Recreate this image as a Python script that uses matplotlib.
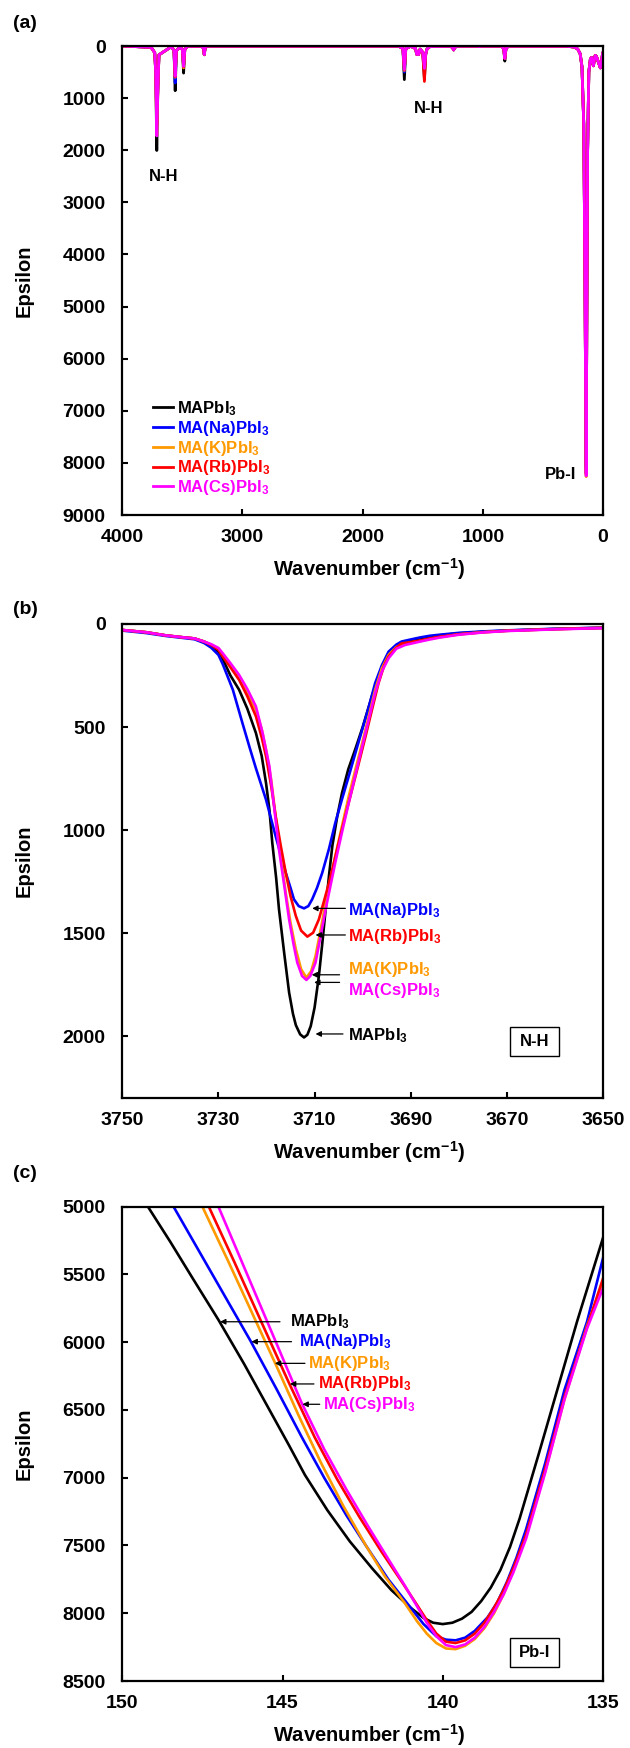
import matplotlib
matplotlib.use("Agg")
import matplotlib.pyplot as plt
from matplotlib.patches import Rectangle

plt.rcParams['font.family'] = ['Liberation Sans', 'DejaVu Sans']
plt.rcParams['font.weight'] = 'bold'
plt.rcParams['mathtext.default'] = 'regular'

# ---------------- series ----------------
names = ['MAPbI$_3$', 'MA(Na)PbI$_3$', 'MA(K)PbI$_3$', 'MA(Rb)PbI$_3$', 'MA(Cs)PbI$_3$']
colors = ['black', '#0000FF', '#FF9900', '#FF0000', '#FF00FF']

# ---------------- panel (a): full spectrum ----------------
wn_a = [4000, 3760, 3730, 3722, 3713, 3704, 3695, 3590, 3570, 3560, 3550, 3520, 3500, 3490,
        3480, 3460, 3340, 3325, 3318, 3311, 3295, 1700, 1665, 1653, 1641, 1600, 1560, 1550,
        1543, 1535, 1522, 1500, 1486, 1475, 1465, 1440, 1270, 1252, 1243, 1234, 1215, 1040,
        1029, 1018, 840, 826, 817, 808, 790, 300, 240, 210, 190, 175, 160, 150, 145, 140,
        135, 128, 118, 105, 95, 80, 65, 55, 40, 22, 10, 3]
base_a = [0, 25, 130, 500, 0, 800, 170, 10, 90, 0, 90, 15, 70, 0,
          70, 5, 5, 40, 0, 40, 3, 3, 50, 0, 50, 5, 50, 160,
          110, 165, 60, 120, 0, 150, 60, 10, 5, 30, 76, 30, 3, 3,
          12, 3, 3, 60, 0, 60, 3, 5, 20, 60, 150, 400, 1500, 4500, 6500, 0,
          5400, 2000, 500, 250, 220, 380, 180, 200, 300, 420, 250, 140]
peak_wn_a = [3713, 3560, 3490, 3318, 1653, 1486, 817, 140]
depth_a_MAPbI3 = [2005, 858, 520, 170, 645, 640, 290, 8080]
depth_a_Na = [1379, 710, 400, 165, 500, 450, 240, 8200]
depth_a_K = [1715, 600, 420, 165, 470, 440, 240, 8265]
depth_a_Rb = [1516, 590, 400, 165, 460, 680, 240, 8220]
depth_a_Cs = [1726, 580, 390, 165, 450, 430, 240, 8250]
depths_a = [depth_a_MAPbI3, depth_a_Na, depth_a_K, depth_a_Rb, depth_a_Cs]

# ---------------- panel (b): N-H region ----------------
wn_b_MAPbI3 = [3750, 3745, 3741, 3738, 3735, 3733, 3731.5, 3730, 3729, 3727.5, 3725.7, 3724, 3722.2,
               3721, 3720.1, 3719.4, 3718.8, 3718, 3717.4, 3716.3, 3715.3, 3714.5, 3713.9, 3713,
               3712.2, 3711.5, 3710.8, 3710, 3709.1, 3708.4, 3707.7, 3707, 3706.3, 3705.3, 3704.3,
               3703, 3701.5, 3700, 3698.1, 3696.5, 3695.3, 3693.2, 3690.5, 3688, 3686, 3684, 3680,
               3675, 3670, 3660, 3650]
eps_b_MAPbI3 = [29, 40, 55, 63, 70, 85, 105, 135, 175, 250, 319, 410, 529,
                640, 771, 900, 1061, 1230, 1384, 1600, 1787, 1890, 1945, 1990,
                2005, 1992, 1950, 1860, 1706, 1550, 1384, 1220, 1075, 935, 820,
                705, 605, 500, 352, 245, 178, 112, 82, 70, 62, 55, 45,
                38, 32, 24, 18]
wn_b_Na = [3750, 3745, 3741, 3738, 3735, 3733, 3731.5, 3730, 3729.1, 3727, 3725, 3723.5, 3722.2,
           3720.1, 3718.1, 3716, 3715, 3714.3, 3713.3, 3712.2, 3711.3, 3710.5, 3709.5, 3708.4,
           3707, 3705.7, 3704.3, 3702.9, 3701.5, 3700.1, 3698.7, 3697.4, 3696, 3694.6, 3693,
           3691.9, 3690, 3688, 3686, 3684, 3680, 3675, 3670, 3660, 3650]
eps_b_Na = [32, 44, 58, 66, 74, 92, 115, 150, 195, 319, 481, 600, 700,
            852, 1029, 1206, 1280, 1335, 1368, 1379, 1368, 1335, 1280, 1206,
            1090, 965, 850, 739, 625, 513, 400, 287, 200, 134, 100,
            85, 75, 65, 57, 52, 43, 36, 31, 23, 18]
wn_b_K = [3750, 3745, 3741, 3738, 3735, 3733, 3731.5, 3730, 3729.1, 3727.5, 3725.7, 3724, 3722.2,
          3721, 3720.1, 3719, 3718.1, 3717, 3716, 3715, 3713.9, 3712.8, 3711.7, 3710.7, 3709.8,
          3708.8, 3707.7, 3706.7, 3705.7, 3704.3, 3702.9, 3701.5, 3700.1, 3698.7, 3697.4, 3696,
          3694.6, 3693, 3691.2, 3688, 3686, 3684, 3680, 3675, 3670, 3660, 3650]
eps_b_K = [29, 40, 55, 63, 70, 85, 100, 120, 150, 200, 255, 330, 416,
           510, 610, 760, 932, 1130, 1303, 1450, 1577, 1674, 1715, 1683, 1610,
           1490, 1352, 1240, 1126, 980, 836, 705, 577, 445, 319, 215,
           150, 112, 94, 82, 72, 64, 50, 40, 33, 25, 19]
wn_b_Rb = [3750, 3745, 3741, 3738, 3735, 3733, 3731.5, 3730, 3729.1, 3727.5, 3725.7, 3724, 3722.2,
           3721, 3720.1, 3719, 3718.1, 3717, 3716, 3715, 3713.9, 3712.8, 3711.5, 3710.3, 3709.1,
           3708, 3707, 3706, 3705, 3703.6, 3702.2, 3700.8, 3699.4, 3698, 3696.7, 3695.5, 3694.6,
           3693, 3691.9, 3690, 3688, 3686, 3684, 3680, 3675, 3670, 3660, 3650]
eps_b_Rb = [29, 40, 55, 63, 70, 85, 102, 125, 158, 210, 271, 350, 448,
            550, 642, 790, 932, 1080, 1206, 1320, 1416, 1487, 1516, 1497, 1432,
            1340, 1255, 1160, 1061, 930, 803, 675, 545, 410, 287, 200, 158,
            115, 94, 88, 80, 70, 62, 50, 40, 33, 25, 19]
wn_b_Cs = [3750, 3745, 3741, 3738, 3735, 3733, 3731.5, 3730, 3729.1, 3727.5, 3725.7, 3724, 3722.2,
           3720.8, 3719.4, 3718.4, 3717.4, 3716.3, 3715.3, 3714.4, 3713.6, 3712.6, 3711.7, 3710.9,
           3709.8, 3708.8, 3707.7, 3706.7, 3705.7, 3704.3, 3702.9, 3701.5, 3700.1, 3698.7, 3697.4,
           3696, 3694.6, 3693, 3691.2, 3688, 3686, 3684, 3680, 3675, 3670, 3660, 3650]
eps_b_Cs = [29, 40, 55, 63, 70, 85, 98, 116, 142, 190, 247, 315, 400,
            530, 690, 890, 1094, 1270, 1432, 1550, 1642, 1707, 1726, 1707,
            1642, 1520, 1384, 1270, 1158, 1010, 868, 730, 594, 460, 335,
            230, 166, 120, 102, 85, 75, 66, 52, 41, 34, 26, 20]
wn_b = [wn_b_MAPbI3, wn_b_Na, wn_b_K, wn_b_Rb, wn_b_Cs]
eps_b = [eps_b_MAPbI3, eps_b_Na, eps_b_K, eps_b_Rb, eps_b_Cs]

# ---------------- panel (c): Pb-I region ----------------
wn_c_MAPbI3 = [149.2, 148.5, 147.8, 147.0, 146.2, 145.5, 144.8, 144.3, 143.6, 142.9, 142.2, 141.6,
               141.0, 140.6, 140.3, 140.0, 139.7, 139.4, 139.1, 138.8, 138.5, 138.2, 137.9, 137.6,
               137.0, 136.4, 135.8, 135.0]
eps_c_MAPbI3 = [5000, 5260, 5530, 5835, 6160, 6460, 6760, 6980, 7240, 7470, 7670, 7830,
                7960, 8035, 8070, 8080, 8070, 8040, 7990, 7910, 7810, 7680, 7510, 7300,
                6820, 6330, 5840, 5230]
wn_c_Na = [148.4, 147.6, 146.8, 146.0, 145.2, 144.4, 143.7, 143.0, 142.4, 141.7, 141.0, 140.6,
           140.2, 139.9, 139.6, 139.3, 139.0, 138.6, 138.3, 138.0, 137.7, 137.4, 136.8, 136.2,
           135.5, 135.0]
eps_c_Na = [5000, 5330, 5660, 5990, 6340, 6700, 7000, 7280, 7500, 7750, 7960, 8080,
            8170, 8195, 8200, 8180, 8130, 8030, 7920, 7770, 7590, 7380, 6890, 6350,
            5850, 5380]
wn_c_K = [147.5, 146.7, 145.9, 145.2, 144.5, 143.8, 143.1, 142.4, 141.8, 141.2, 140.8, 140.5,
          140.2, 139.9, 139.6, 139.3, 139.0, 138.7, 138.4, 138.1, 137.8, 137.4, 136.8, 136.2,
          135.5, 135.0]
eps_c_K = [5000, 5400, 5810, 6170, 6540, 6890, 7210, 7500, 7730, 7920, 8060, 8150,
           8220, 8260, 8265, 8240, 8190, 8110, 8000, 7860, 7690, 7430, 6950, 6420,
           5880, 5560]
wn_c_Rb = [147.3, 146.5, 145.7, 144.8, 144.0, 143.3, 142.6, 141.9, 141.3, 140.8, 140.5, 140.2,
           139.9, 139.6, 139.3, 139.0, 138.7, 138.4, 138.1, 137.8, 137.4, 136.8, 136.2, 135.5,
           135.0]
eps_c_Rb = [5000, 5410, 5830, 6300, 6700, 7010, 7290, 7550, 7760, 7940, 8050, 8150,
            8210, 8220, 8200, 8150, 8070, 7960, 7830, 7670, 7420, 6930, 6400, 5890,
            5530]
wn_c_Cs = [147.0, 146.3, 145.6, 144.9, 144.4, 143.7, 143.0, 142.3, 141.7, 141.2, 140.8, 140.5,
           140.2, 139.9, 139.6, 139.3, 139.0, 138.7, 138.4, 138.1, 137.8, 137.4, 136.8, 136.2,
           135.5, 135.0]
eps_c_Cs = [5000, 5390, 5780, 6170, 6450, 6790, 7090, 7370, 7600, 7790, 7950, 8070,
            8170, 8235, 8250, 8230, 8180, 8100, 7990, 7860, 7700, 7450, 6960, 6420,
            5900, 5600]
wn_c = [wn_c_MAPbI3, wn_c_Na, wn_c_K, wn_c_Rb, wn_c_Cs]
eps_c = [eps_c_MAPbI3, eps_c_Na, eps_c_K, eps_c_Rb, eps_c_Cs]

# annotation anchors (tip on curve, arrow tail, text start)
b_tip = [(3709.8, 1988), (3710.5, 1379), (3710.6, 1701), (3709.8, 1508), (3710.1, 1738)]
b_tail = [(3704.1, 1988), (3703.6, 1379), (3704.8, 1701), (3703.6, 1508), (3704.8, 1738)]
b_text = [(3703.1, 1997), (3703.1, 1387), (3703.1, 1674), (3703.1, 1513), (3703.1, 1779)]
c_tip = [(146.95, 5849), (145.97, 5996), (145.24, 6156), (144.77, 6308), (144.38, 6458)]
c_tail = [(145.08, 5849), (144.72, 5996), (144.30, 6156), (144.02, 6308), (143.84, 6458)]
c_text = [(144.77, 5849), (144.48, 5996), (144.20, 6156), (143.89, 6308), (143.75, 6458)]

# ---------------- figure ----------------
FW, FH = 630, 1748
fig = plt.figure(figsize=(FW / 100, FH / 100), dpi=100)
L, R = 122.3, 603.0


def add_ax(top, bottom):
    return fig.add_axes([L / FW, 1 - bottom / FH, (R - L) / FW, (bottom - top) / FH])


axA = add_ax(46, 515)
axB = add_ax(624, 1098.3)
axC = add_ax(1206.7, 1681)

TICK_FS = 14
LAB_FS = 14.5
ANN_FS = 12


def style(ax):
    for s in ax.spines.values():
        s.set_linewidth(1.6)
    ax.tick_params(axis='both', direction='in', length=4.5, width=1.5,
                   labelsize=TICK_FS, top=False, right=False)
    ax.tick_params(axis='x', pad=10)
    ax.tick_params(axis='y', pad=12)
    for lab in ax.get_xticklabels() + ax.get_yticklabels():
        lab.set_fontweight('bold')


# panel (a)
for i in range(5):
    eps = list(base_a)
    for w, d in zip(peak_wn_a, depths_a[i]):
        eps[wn_a.index(w)] = d
    axA.plot(wn_a, eps, color=colors[i], lw=2.0, label=names[i], solid_joinstyle='round')
axA.set_xlim(4000, 0)
axA.set_ylim(9000, 0)
axA.set_xticks([4000, 3000, 2000, 1000, 0])
axA.set_yticks(range(0, 9001, 1000))
style(axA)
axA.text(3655, 2500, 'N-H', ha='center', va='center', fontsize=ANN_FS, fontweight='bold')
axA.text(1450, 1200, 'N-H', ha='center', va='center', fontsize=ANN_FS, fontweight='bold')
axA.text(220, 8232, 'Pb-I', ha='right', va='center', fontsize=ANN_FS, fontweight='bold')
leg = axA.legend(loc='upper left', bbox_to_anchor=(0.064, 0.247), frameon=False,
                 handlelength=1.2, handletextpad=0.25, labelspacing=0.05,
                 borderaxespad=0, borderpad=0, labelcolor='linecolor',
                 prop={'size': 12, 'weight': 'bold'})

# panel (b)
for i in range(5):
    axB.plot(wn_b[i], eps_b[i], color=colors[i], lw=1.9)
axB.set_xlim(3750, 3650)
axB.set_ylim(2300, 0)
axB.set_xticks([3750, 3730, 3710, 3690, 3670, 3650])
axB.set_yticks([0, 500, 1000, 1500, 2000])
style(axB)
for i in range(5):
    axB.annotate('', xy=b_tip[i], xytext=b_tail[i],
                 arrowprops=dict(arrowstyle='-|>', color='black', lw=0.9,
                                 mutation_scale=8, shrinkA=0, shrinkB=0))
    axB.text(b_text[i][0], b_text[i][1], names[i], color=colors[i], ha='left',
             va='center', fontsize=ANN_FS, fontweight='bold')
axB.add_patch(Rectangle((0.8066, 0.0892), 0.1012, 0.0618, transform=axB.transAxes,
                        fill=False, lw=1.0, edgecolor='black'))
axB.text(0.857, 0.1201, 'N-H', transform=axB.transAxes, ha='center', va='center',
         fontsize=ANN_FS, fontweight='bold')

# panel (c)
for i in range(5):
    axC.plot(wn_c[i], eps_c[i], color=colors[i], lw=1.9)
axC.set_xlim(150, 135)
axC.set_ylim(8500, 5000)
axC.set_xticks([150, 145, 140, 135])
axC.set_yticks(range(5000, 8501, 500))
style(axC)
for i in range(5):
    axC.annotate('', xy=c_tip[i], xytext=c_tail[i],
                 arrowprops=dict(arrowstyle='-|>', color='black', lw=0.9,
                                 mutation_scale=8, shrinkA=0, shrinkB=0))
    axC.text(c_text[i][0], c_text[i][1], names[i], color=colors[i], ha='left',
             va='center', fontsize=ANN_FS, fontweight='bold')
axC.add_patch(Rectangle((0.8066, 0.0302), 0.1025, 0.0611, transform=axC.transAxes,
                        fill=False, lw=1.0, edgecolor='black'))
axC.text(0.8578, 0.0608, 'Pb-I', transform=axC.transAxes, ha='center', va='center',
         fontsize=ANN_FS, fontweight='bold')

# axis labels and panel letters
xc = (L + R) / 2 / FW + 0.01
for ax, bottom, top in [(axA, 515, 46), (axB, 1098.3, 624), (axC, 1681, 1206.7)]:
    fig.text(xc, 1 - (bottom + 54) / FH, 'Wavenumber (cm$^{-1}$)', ha='center', va='center',
             fontsize=LAB_FS, fontweight='bold')
    fig.text(24.5 / FW, 1 - (top + bottom) / 2 / FH, 'Epsilon', rotation=90, ha='center',
             va='center', fontsize=LAB_FS, fontweight='bold')
for lab, y in [('(a)', 23), ('(b)', 610), ('(c)', 1174)]:
    fig.text(13 / FW, 1 - y / FH, lab, ha='left', va='center', fontsize=14, fontweight='bold')

fig.savefig('out.png', dpi=100)
